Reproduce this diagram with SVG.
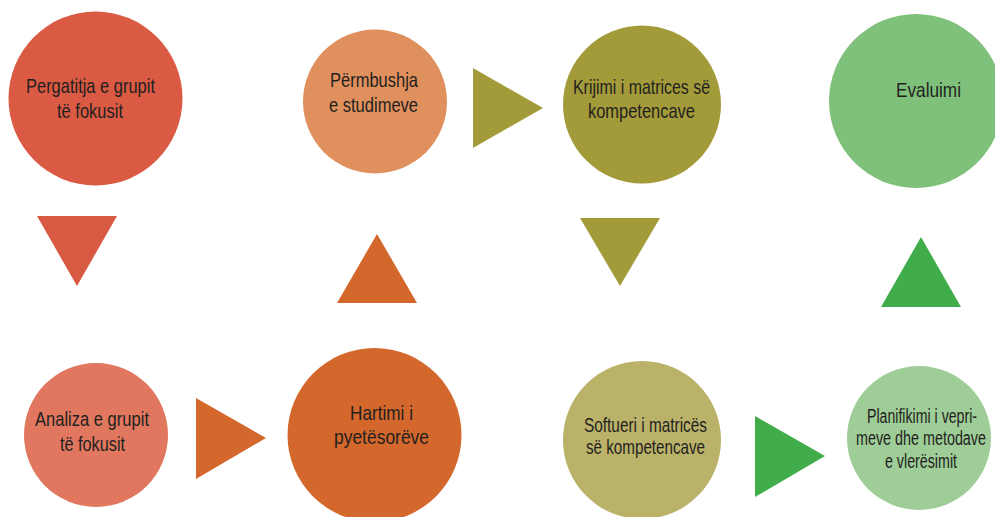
<svg xmlns="http://www.w3.org/2000/svg" width="995" height="517" viewBox="0 0 995 517">
<style>
text{font-family:"Liberation Sans",Arial,sans-serif;font-size:21px;fill:#231F20;text-anchor:middle}
.s{font-size:19.5px}
</style>
<rect width="995" height="517" fill="#FFFFFF"/>
<g id="n1"><circle cx="95.5" cy="98.5" r="87" fill="#DA5A43"/><text x="90.5" y="92.5" textLength="129" lengthAdjust="spacingAndGlyphs">Pergatitja e grupit</text><text x="90" y="118" textLength="66" lengthAdjust="spacingAndGlyphs">të fokusit</text></g>
<g id="n2"><circle cx="375" cy="101.5" r="72" fill="#E0905C"/><text x="374" y="87" textLength="88" lengthAdjust="spacingAndGlyphs">Përmbushja</text><text x="373.5" y="112" textLength="89" lengthAdjust="spacingAndGlyphs">e studimeve</text></g>
<g id="n3"><circle cx="642" cy="104.5" r="79" fill="#A39B3A"/><text x="641.5" y="94" textLength="137" lengthAdjust="spacingAndGlyphs">Krijimi i matrices së</text><text x="641.5" y="118" textLength="107" lengthAdjust="spacingAndGlyphs">kompetencave</text></g>
<g id="n4"><circle cx="916" cy="101" r="87" fill="#7FC17A"/><text x="928.5" y="97" textLength="65" lengthAdjust="spacingAndGlyphs">Evaluimi</text></g>
<g id="n5"><circle cx="96" cy="435" r="72" fill="#E0775E"/><text x="92" y="426" textLength="114" lengthAdjust="spacingAndGlyphs">Analiza e grupit</text><text x="92.5" y="451" textLength="65" lengthAdjust="spacingAndGlyphs">të fokusit</text></g>
<g id="n6"><circle cx="374.5" cy="435" r="87" fill="#D4682C"/><text x="381.5" y="420" textLength="63" lengthAdjust="spacingAndGlyphs">Hartimi i</text><text x="381.5" y="444" textLength="95" lengthAdjust="spacingAndGlyphs">pyetësorëve</text></g>
<g id="n7"><circle cx="642" cy="440" r="79" fill="#BBB26A"/><text x="645.5" y="432" textLength="123" lengthAdjust="spacingAndGlyphs">Softueri i matricës</text><text x="645.5" y="454" textLength="119" lengthAdjust="spacingAndGlyphs">së kompetencave</text></g>
<g id="n8"><circle cx="919" cy="438" r="72" fill="#9ECD97"/><text class="s" x="922" y="423" textLength="110" lengthAdjust="spacingAndGlyphs">Planifikimi i vepri-</text><text class="s" x="921" y="445" textLength="130" lengthAdjust="spacingAndGlyphs">meve dhe metodave</text><text class="s" x="921" y="468" textLength="72" lengthAdjust="spacingAndGlyphs">e vlerësimit</text></g>
<g id="connectors">
<polygon points="37,216 117,216 77,286" fill="#D95A43"/>
<polygon points="337,303 417,303 377,234" fill="#D4682C"/>
<polygon points="473,68 543,108 473,148" fill="#A39B3A"/>
<polygon points="580,218 660,218 620,286" fill="#A39B3A"/>
<polygon points="881,307 961,307 921,237" fill="#41AD4A"/>
<polygon points="196,398 266,438 196,479" fill="#D4682C"/>
<polygon points="755,416 825,456 755,497" fill="#41AD4A"/>
</g>
</svg>
